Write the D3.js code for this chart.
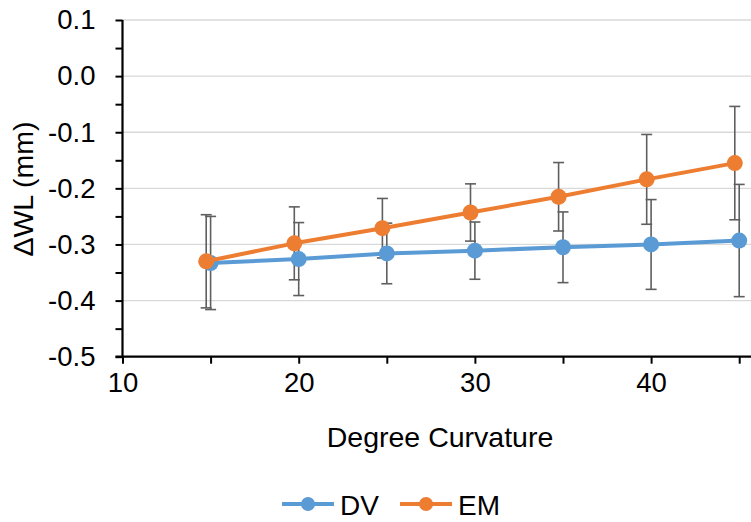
<!DOCTYPE html>
<html>
<head>
<meta charset="utf-8">
<script src="https://cdn.jsdelivr.net/npm/d3@7"></script>
<style>
  html, body { margin: 0; padding: 0; background: #fff; }
  svg { display: block; }
  text { font-family: "Liberation Sans", Arial, sans-serif; fill: #000; }
</style>
</head>
<body>
<svg id="chart" width="751" height="522"></svg>
<script>
// ---- data ----
const seriesNames = ["DV", "EM"];
const xDV = [15, 20, 25, 30, 35, 40, 45];
const xEM = [14.75, 19.75, 24.75, 29.75, 34.75, 39.75, 44.75];
const dvValues = [-0.333, -0.326, -0.316, -0.311, -0.305, -0.300, -0.293];
const dvErrors = [0.083, 0.065, 0.054, 0.051, 0.063, 0.080, 0.100];
const emValues = [-0.330, -0.298, -0.271, -0.243, -0.215, -0.184, -0.155];
const emErrors = [0.083, 0.065, 0.053, 0.051, 0.061, 0.080, 0.101];
const yTickValues = [-0.5, -0.4, -0.3, -0.2, -0.1, 0.0, 0.1];
const yMinorTicks = [-0.45, -0.35, -0.25, -0.15, -0.05, 0.05];
const xTickValues = [10, 20, 30, 40];
const xMinorTicks = [15, 25, 35, 45];
const colors = ["#5B9BD5", "#ED7D31"];

// ---- layout ----
const svg = d3.select("#chart");
const W = 751;
const x = d3.scaleLinear().domain([10, 50]).range([122.5, 827.3]);
const y = d3.scaleLinear().domain([-0.5, 0.1]).range([356.7, 20]);

// gridlines
svg.append("g").selectAll("line").data(yTickValues.filter(v => v > -0.5)).join("line")
  .attr("x1", x(10)).attr("x2", W)
  .attr("y1", d => y(d)).attr("y2", d => y(d))
  .attr("stroke", "#d9d9d9").attr("stroke-width", 1.3);

// error bars
const series = [
  { name: seriesNames[0], xs: xDV, vals: dvValues, errs: dvErrors, color: colors[0] },
  { name: seriesNames[1], xs: xEM, vals: emValues, errs: emErrors, color: colors[1] }
];
const eb = svg.append("g").attr("stroke", "#5f5f5f").attr("stroke-width", 1.6).attr("fill", "none");
series.forEach(s => {
  s.vals.forEach((v, i) => {
    const cx = x(s.xs[i]);
    const top = y(v + s.errs[i]), bot = y(v - s.errs[i]);
    eb.append("line").attr("x1", cx).attr("x2", cx).attr("y1", top).attr("y2", bot);
    eb.append("line").attr("x1", cx - 5.5).attr("x2", cx + 5.5).attr("y1", top).attr("y2", top);
    eb.append("line").attr("x1", cx - 5.5).attr("x2", cx + 5.5).attr("y1", bot).attr("y2", bot);
  });
});

// axes
const yAxis = svg.append("g").attr("transform", `translate(${x(10)},0)`)
  .call(d3.axisLeft(y).tickValues(yTickValues).tickSize(7).tickPadding(20)
    .tickFormat(d => d.toFixed(1)));
const yMinor = svg.append("g").attr("transform", `translate(${x(10)},0)`)
  .call(d3.axisLeft(y).tickValues(yMinorTicks).tickSize(7).tickFormat(""));
const xAxis = svg.append("g").attr("transform", `translate(0,${y(-0.5)})`)
  .call(d3.axisBottom(x).tickValues(xTickValues).tickSize(7).tickPadding(9)
    .tickFormat(d3.format("d")));
const xMinor = svg.append("g").attr("transform", `translate(0,${y(-0.5)})`)
  .call(d3.axisBottom(x).tickValues(xMinorTicks).tickSize(7).tickFormat(""));

[yAxis, yMinor, xAxis, xMinor].forEach(g => {
  g.selectAll(".domain").remove();
  g.selectAll("line").attr("stroke", "#000").attr("stroke-width", 2);
  g.selectAll("text").style("font-size", "27.5px").style("font-family", "'Liberation Sans', Arial, sans-serif").attr("fill", "#000");
});
// axis lines
svg.append("line").attr("x1", x(10)).attr("x2", x(10)).attr("y1", y(0.1)).attr("y2", y(-0.5))
  .attr("stroke", "#000").attr("stroke-width", 2.2);
svg.append("line").attr("x1", x(10) - 7).attr("x2", W).attr("y1", y(-0.5)).attr("y2", y(-0.5))
  .attr("stroke", "#000").attr("stroke-width", 2.2);

// lines and markers
series.forEach(s => {
  const pts = s.vals.map((v, i) => [s.xs[i], v]);
  svg.append("path").datum(pts)
    .attr("d", d3.line().x(d => x(d[0])).y(d => y(d[1])))
    .attr("fill", "none").attr("stroke", s.color).attr("stroke-width", 4)
    .attr("stroke-linejoin", "round");
  svg.append("g").selectAll("circle").data(pts).join("circle")
    .attr("cx", d => x(d[0])).attr("cy", d => y(d[1])).attr("r", 8)
    .attr("fill", s.color);
});

// axis titles
svg.append("text").attr("x", 440).attr("y", 447).attr("text-anchor", "middle")
  .style("font-size", "28.5px").text("Degree Curvature");
svg.append("text").attr("transform", "translate(33,189) rotate(-90)").attr("text-anchor", "middle")
  .style("font-size", "28.5px").text("ΔWL (mm)");

// legend
const legX = [282, 400];
series.forEach((s, i) => {
  const g = svg.append("g").attr("transform", `translate(${legX[i]},504)`);
  g.append("line").attr("x1", 0).attr("x2", 52).attr("y1", 0).attr("y2", 0)
    .attr("stroke", s.color).attr("stroke-width", 4);
  g.append("circle").attr("cx", 26).attr("cy", 0).attr("r", 7).attr("fill", s.color);
  g.append("text").attr("x", 58).attr("y", 10.5).style("font-size", "28px").text(s.name);
});
</script>
</body>
</html>
